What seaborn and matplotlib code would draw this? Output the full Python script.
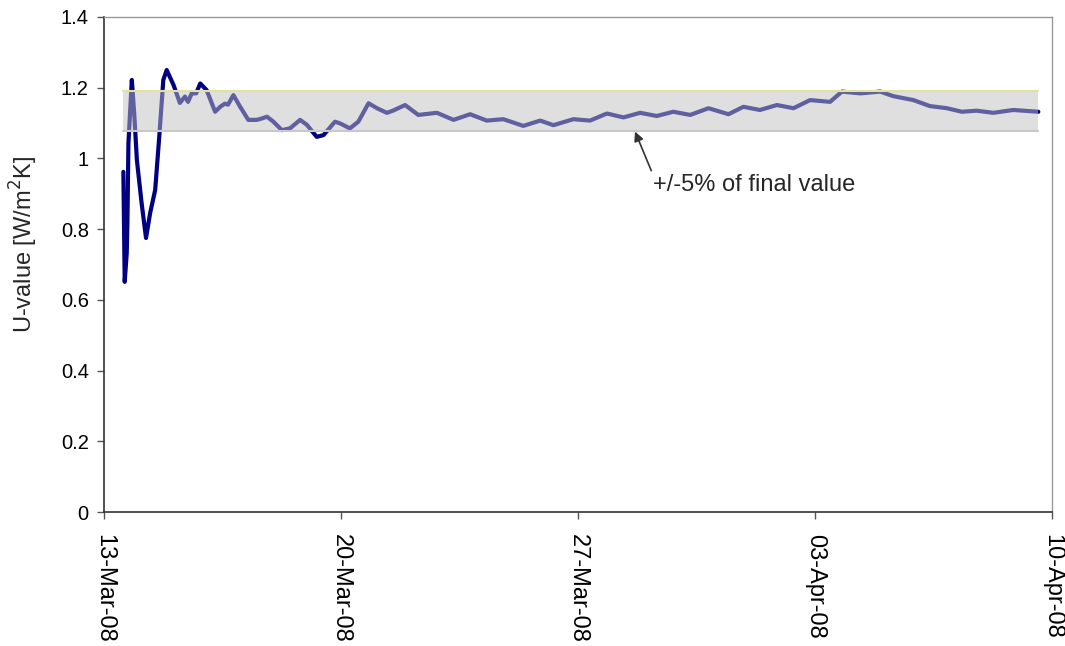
import pandas as pd
import matplotlib.pyplot as plt
import matplotlib.dates as mdates
import seaborn as sns

# -------------------------
# Data
# -------------------------
start_date = "2008-03-13"
days = [0.57, 0.61, 0.67, 0.69, 0.72, 0.82, 0.89, 0.97, 1.11, 1.24,
        1.36, 1.51, 1.63, 1.75, 1.85, 2.05, 2.24, 2.39, 2.48, 2.59,
        2.72, 2.84, 3.03, 3.28, 3.43, 3.57, 3.66, 3.82, 4.02, 4.26,
        4.51, 4.66, 4.81, 5.00, 5.25, 5.49, 5.79, 5.99, 6.28, 6.48,
        6.82, 6.97, 7.26, 7.51, 7.81, 8.06, 8.35, 8.53, 8.89, 9.28,
        9.83, 10.32, 10.81, 11.30, 11.79, 12.38, 12.88, 13.27, 13.86, 14.35,
        14.85, 15.34, 15.83, 16.32, 16.81, 17.31, 17.85, 18.44, 18.88, 19.37,
        19.87, 20.36, 20.85, 21.44, 21.79, 22.33, 22.92, 23.31, 23.90, 24.39,
        24.89, 25.33, 25.77, 26.26, 26.85, 27.59]
u_value = [0.962, 0.651, 0.732, 0.817, 1.043, 1.222, 1.128, 0.995, 0.873, 0.775,
           0.845, 0.911, 1.061, 1.222, 1.250, 1.208, 1.157, 1.175, 1.160, 1.184,
           1.184, 1.212, 1.193, 1.132, 1.146, 1.155, 1.152, 1.179, 1.146, 1.109,
           1.109, 1.113, 1.118, 1.104, 1.080, 1.085, 1.109, 1.095, 1.061, 1.066,
           1.104, 1.099, 1.085, 1.104, 1.156, 1.142, 1.129, 1.135, 1.151, 1.123,
           1.129, 1.109, 1.125, 1.107, 1.111, 1.092, 1.107, 1.094, 1.111, 1.107,
           1.127, 1.116, 1.129, 1.120, 1.132, 1.123, 1.142, 1.125, 1.146, 1.137,
           1.151, 1.142, 1.165, 1.160, 1.189, 1.184, 1.189, 1.176, 1.165, 1.148,
           1.142, 1.132, 1.135, 1.129, 1.137, 1.132]
final_value = 1.135
band_pct = 0.05
tick_dates = ["2008-03-13", "2008-03-20", "2008-03-27", "2008-04-03", "2008-04-10"]
y_ticks = [0, 0.2, 0.4, 0.6, 0.8, 1, 1.2, 1.4]
annot_text = "+/-5% of final value"

df = pd.DataFrame({
    "time": pd.Timestamp(start_date) + pd.to_timedelta(days, unit="D"),
    "u": u_value,
})

# -------------------------
# Style
# -------------------------
sns.set_style("white")
plt.rcParams["font.family"] = ["Liberation Sans", "DejaVu Sans"]

fig = plt.figure(figsize=(10.65, 6.46), dpi=100)
ax = fig.add_axes([0.0977, 0.2074, 0.8903, 0.7663])

sns.lineplot(data=df, x="time", y="u", ax=ax, color="#000080", linewidth=3, zorder=2)

# +/-5% band drawn over the line (semi-transparent grey)
lo = final_value * (1 - band_pct)
hi = final_value * (1 + band_pct)
t0, t1 = df["time"].iloc[0], df["time"].iloc[-1]
ax.fill_between([t0, t1], lo, hi, color="#C0C0C0", alpha=0.5, linewidth=0, zorder=3)
ax.plot([t0, t1], [hi, hi], color="#E2E29A", linewidth=1.5, zorder=4)
ax.plot([t0, t1], [lo, lo], color="#C8C8C8", linewidth=1.5, zorder=4)

# Annotation
arrow_tip = pd.Timestamp(start_date) + pd.Timedelta(days=15.68)
text_pos = pd.Timestamp(start_date) + pd.Timedelta(days=16.2)
ax.annotate(annot_text, xy=(arrow_tip, 1.076), xytext=(text_pos, 0.925),
            fontsize=17, ha="left", va="center",
            arrowprops=dict(arrowstyle="-|>", color="#333333", lw=1.2,
                            mutation_scale=14, shrinkA=0, shrinkB=0,
                            relpos=(0.0, 1.0)))

# -------------------------
# Axes
# -------------------------
ax.set_xlim(pd.Timestamp(tick_dates[0]), pd.Timestamp(tick_dates[-1]))
ax.set_ylim(0, 1.4)
ax.set_xticks(pd.to_datetime(tick_dates))
ax.xaxis.set_major_formatter(mdates.DateFormatter("%d-%b-%y"))
ax.set_yticks(y_ticks)
ax.set_yticklabels([f"{v:g}" for v in y_ticks])
ax.tick_params(axis="both", direction="out", length=5,
               width=1, colors="#555555", labelcolor="black",
               left=True, bottom=True)
ax.tick_params(axis="y", labelsize=14.5, pad=6)
ax.tick_params(axis="x", labelsize=17, pad=11)
plt.setp(ax.get_xticklabels(), rotation=270, ha="center", va="top")
ax.set_xlabel("")
ax.set_ylabel("U-value [W/m$^2$K]", fontsize=17)
ax.yaxis.set_label_coords(-0.068, 0.54)

for side in ["left", "bottom"]:
    ax.spines[side].set_color("#333333")
    ax.spines[side].set_linewidth(1.2)
for side in ["top", "right"]:
    ax.spines[side].set_color("#999999")
    ax.spines[side].set_linewidth(1)

plt.savefig("out.png", dpi=100)
plt.close()
